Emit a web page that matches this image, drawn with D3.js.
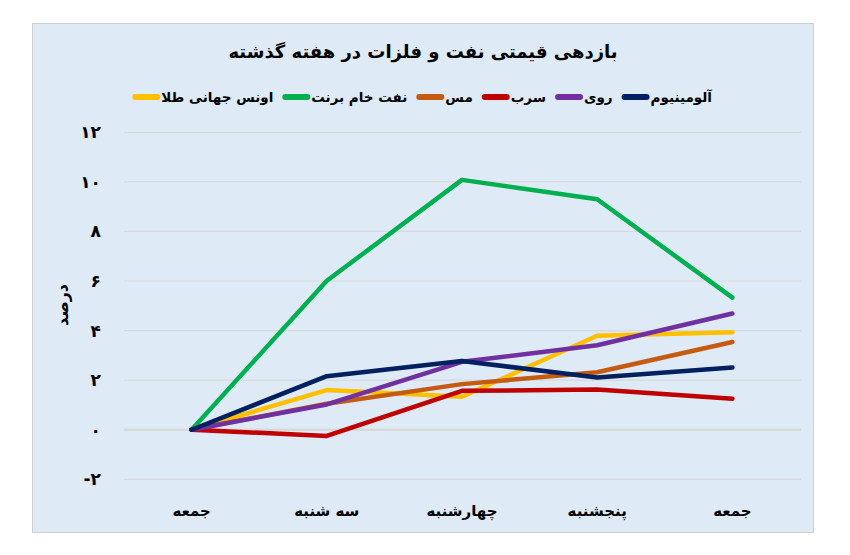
<!DOCTYPE html>
<html lang="fa">
<head>
<meta charset="utf-8">
<script src="https://cdn.jsdelivr.net/npm/d3@7"></script>
<style>
  body { margin: 0; background: #fff; }
  text { font-family: "DejaVu Sans", sans-serif; }
</style>
</head>
<body>
<script>
'use strict';

// days of the week (x categories)
const days = ["جمعه", "سه شنبه", "چهارشنبه", "پنجشنبه", "جمعه"];

// weekly return, percent
const gold     = [0, 1.6, 1.33, 3.79, 3.93];
const brent    = [0, 6.01, 10.08, 9.3, 5.33];
const copper   = [0, 1.05, 1.84, 2.32, 3.54];
const lead     = [0, -0.25, 1.57, 1.62, 1.25];
const zinc     = [0, 1.02, 2.74, 3.41, 4.69];
const aluminum = [0, 2.16, 2.77, 2.11, 2.51];

const seriesNames  = ["اونس جهانی طلا", "نفت خام برنت", "مس", "سرب", "روی", "آلومینیوم"];
const seriesColors = ["#ffc000", "#00b050", "#c55a11", "#c00000", "#7030a0", "#002060"];
const yTicks = [-2, 0, 2, 4, 6, 8, 10, 12];

const title = "بازدهی قیمتی نفت و فلزات در هفته گذشته";
const yTitle = "درصد";

function faDigits(n) {
    let s = String(Math.abs(n)).replace(/[0-9]/g, function(c) { return "۰۱۲۳۴۵۶۷۸۹"[+c]; });
    return n < 0 ? "-" + s : s;
}

const width = 850, height = 555;
let svg = d3.select("body").append("svg")
    .attr("width", width)
    .attr("height", height);

// chart box
svg.append("rect")
    .attr("x", 32.5).attr("y", 23.5)
    .attr("width", 781).attr("height", 509)
    .attr("fill", "#deeaf6")
    .attr("stroke", "#d0d0d0")
    .attr("stroke-width", 1);

let x = d3.scaleBand()
    .domain(d3.range(days.length))
    .range([124, 800]);

let y = d3.scaleLinear()
    .domain([-2, 12])
    .range([479.3, 132.3]);

// grid
svg.append("g")
    .selectAll("line")
    .data(yTicks)
    .enter().append("line")
    .attr("x1", 124).attr("x2", 801)
    .attr("y1", function(d) { return y(d); })
    .attr("y2", function(d) { return y(d); })
    .attr("stroke", "#d9d9d9")
    .attr("stroke-width", function(d) { return d === 0 ? 2.5 : 1.2; });

// y labels
svg.append("g")
    .selectAll("text")
    .data(yTicks)
    .enter().append("text")
    .attr("x", 101)
    .attr("y", function(d) { return y(d) + 6; })
    .attr("text-anchor", "end")
    .style("font-size", "17px")
    .style("font-weight", "bold")
    .text(function(d) { return faDigits(d); });

// x labels
svg.append("g")
    .selectAll("text")
    .data(days)
    .enter().append("text")
    .attr("x", function(d, i) { return x(i) + x.bandwidth() / 2; })
    .attr("y", 516)
    .attr("text-anchor", "middle")
    .style("font-size", "15px")
    .style("font-weight", "bold")
    .text(function(d) { return d; });

// y title
svg.append("text")
    .attr("transform", "translate(68,305) rotate(-90)")
    .attr("text-anchor", "middle")
    .style("font-size", "16px")
    .style("font-weight", "bold")
    .text(yTitle);

// title
svg.append("text")
    .attr("x", 423).attr("y", 58)
    .attr("text-anchor", "middle")
    .style("font-size", "18px")
    .style("font-weight", "bold")
    .text(title);

// lines
const allSeries = [gold, brent, copper, lead, zinc, aluminum];
let line = d3.line()
    .x(function(d, i) { return x(i) + x.bandwidth() / 2; })
    .y(function(d) { return y(d); });

svg.append("g")
    .selectAll("path")
    .data(allSeries)
    .enter().append("path")
    .attr("d", function(d) { return line(d); })
    .attr("fill", "none")
    .attr("stroke", function(d, i) { return seriesColors[i]; })
    .attr("stroke-width", 4.5)
    .attr("stroke-linejoin", "round")
    .attr("stroke-linecap", "round");

// legend, laid out right to left
const legendRight = 712;
let legend = svg.append("g");
let cursor = legendRight;
for (let i = seriesNames.length - 1; i >= 0; i--) {
    let t = legend.append("text")
        .attr("x", cursor)
        .attr("y", 102)
        .attr("text-anchor", "end")
        .style("font-size", "13.5px")
        .style("font-weight", "bold")
        .text(seriesNames[i]);
    let w = t.node().getComputedTextLength();
    legend.append("line")
        .attr("x1", cursor - w - 26).attr("x2", cursor - w - 4)
        .attr("y1", 97).attr("y2", 97)
        .attr("stroke", seriesColors[i])
        .attr("stroke-width", 6)
        .attr("stroke-linecap", "round");
    cursor = cursor - w - 38;
}
</script>
</body>
</html>
